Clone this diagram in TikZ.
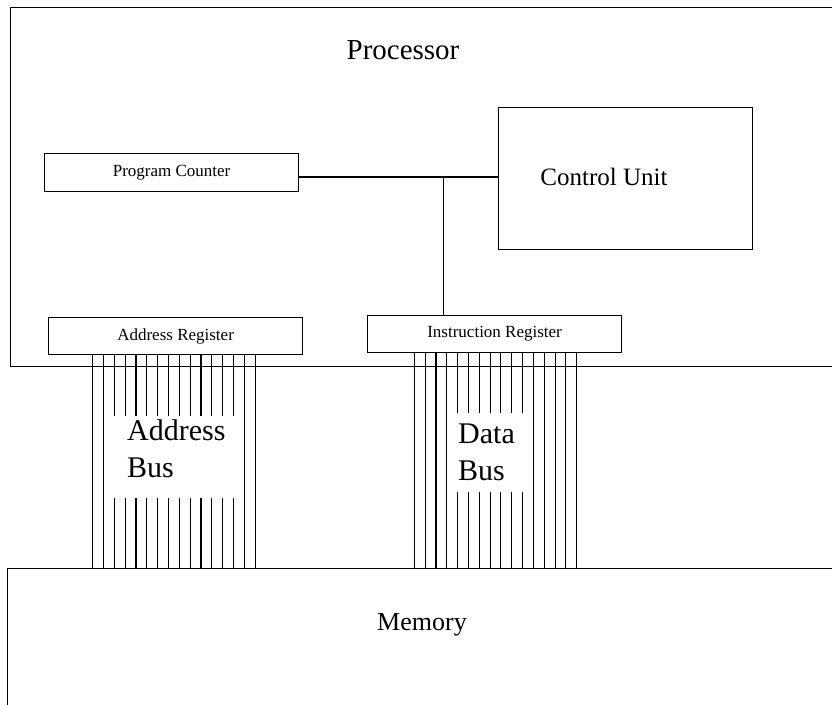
\documentclass[tikz,border=0pt]{standalone}
\usepackage{fontspec}
\setmainfont{Liberation Serif}
\usetikzlibrary{positioning,calc}

\begin{document}
\begin{tikzpicture}[
        x=1pt, y=-1pt,
        unit/.style={rectangle, draw, inner sep=0pt, anchor=north west, line width=1.4pt},
        reg/.style={rectangle, draw, fill=white, inner sep=0pt, anchor=north west, minimum width=254pt, minimum height=37pt, line width=1.2pt, font=\fontsize{17}{20}\selectfont},
        title/.style={inner sep=0pt, font=\fontsize{29}{34}\selectfont},
        buslabel/.style={align=left, anchor=base west, inner sep=0pt, font=\fontsize{30}{37}\selectfont},
        wire/.style={draw, line width=1.1pt}
    ]
    \path[use as bounding box, clip] (0,0) rectangle (832,704);

    % big blocks
    \node [unit, minimum width=840pt, minimum height=359pt] (cpu) at (10,7) {};
    \node [unit, minimum width=840pt, minimum height=150pt] (mem) at (7,568) {};
    \node [title] (cputitle) at (403,50) {Processor};
    \node [title, font=\fontsize{26}{30}\selectfont] (memtitle) at (422,625) {Memory};

    % parts of the processor
    \node [reg, minimum height=38pt] (pc) at (44,153) {Program Counter};
    \node [unit, line width=1.2pt, minimum width=254pt, minimum height=142pt] (cu) at (498,107) {};
    \node [title, font=\fontsize{25}{30}\selectfont] (cutitle) at (604,177) {Control Unit};
    \node [reg] (ar) at (48,317) {Address Register};
    \node [reg] (ir) at (367,315) {Instruction Register};

    \coordinate (jn) at (443.5,177);
    \path [wire] (pc.east |- jn) -- (cu.west |- jn);
    \path [wire] (jn) -- (jn |- ir.north);

    % address bus
    \foreach \k in {0,...,15} {
        \path (ar.south west) ++({44.7+10.83*\k},0) coordinate (t);
        \ifnum\k<2 \path [wire] (t) -- (t |- mem.north);
        \else\ifnum\k>13 \path [wire] (t) -- (t |- mem.north);
        \else
            \path [wire] (t) -- ++(0,61);
            \path [wire] (t |- mem.north) -- ++(0,-70);
        \fi\fi
    }
    \node [buslabel] (abus) at (127,477) {Address\\Bus};

    % data bus
    \foreach \k in {0,...,15} {
        \path (ir.south west) ++({47.3+10.83*\k},0) coordinate (t);
        \ifnum\k<4 \path [wire] (t) -- (t |- mem.north);
        \else\ifnum\k>10 \path [wire] (t) -- (t |- mem.north);
        \else
            \path [wire] (t) -- ++(0,60);
            \path [wire] (t |- mem.north) -- ++(0,-76);
        \fi\fi
    }
    \node [buslabel] (dbus) at (458,480) {Data\\Bus};

\end{tikzpicture}
\end{document}
